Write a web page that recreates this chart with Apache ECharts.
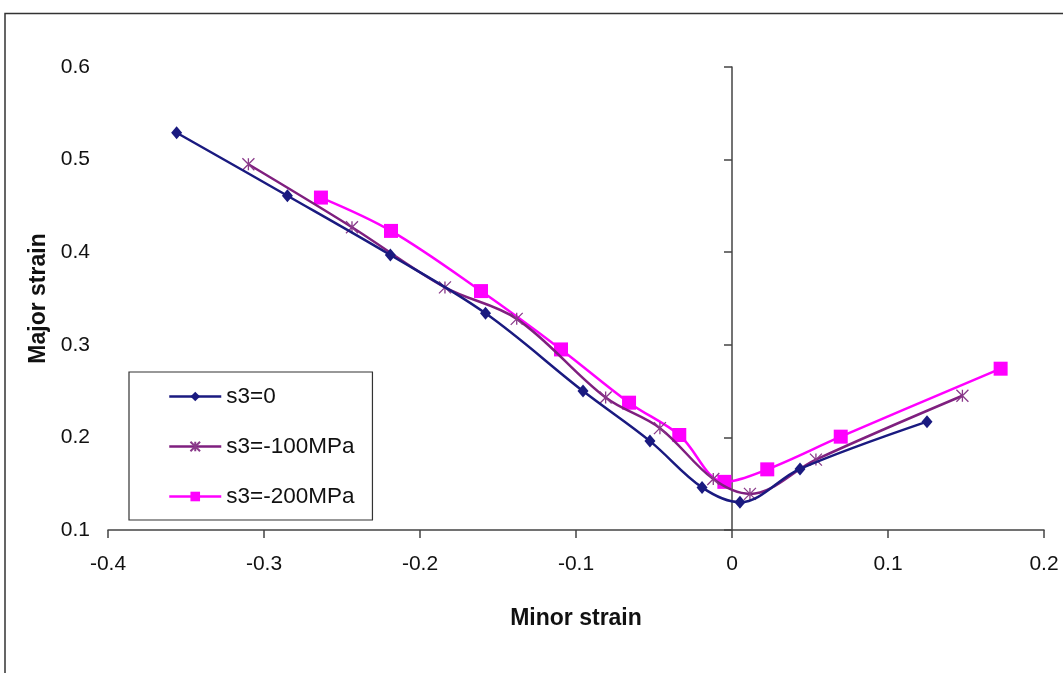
<!DOCTYPE html>
<html>
<head>
<meta charset="utf-8">
<script src="https://cdn.jsdelivr.net/npm/echarts@6/dist/echarts.min.js"></script>
<style>
html,body{margin:0;padding:0;background:#fff;}
#chart{width:1063px;height:673px;}
</style>
</head>
<body>
<div id="chart"></div>
<script>
// ---- data ----
var seriesNames = ['s3=0', 's3=-100MPa', 's3=-200MPa'];

var s0X = [-0.356, -0.285, -0.219, -0.158, -0.0955, -0.0526, -0.0192, 0.0051, 0.0436, 0.125];
var s0Y = [0.529, 0.461, 0.397, 0.334, 0.250, 0.196, 0.146, 0.130, 0.166, 0.217];

var s100X = [-0.310, -0.2436, -0.184, -0.138, -0.081, -0.0462, -0.012, 0.0115, 0.0538, 0.1477];
var s100Y = [0.495, 0.427, 0.362, 0.328, 0.243, 0.210, 0.155, 0.139, 0.176, 0.245];

var s200X = [-0.2635, -0.2186, -0.1609, -0.1096, -0.066, -0.0338, -0.0049, 0.0226, 0.0697, 0.1722];
var s200Y = [0.459, 0.423, 0.358, 0.295, 0.2375, 0.2026, 0.152, 0.1655, 0.2008, 0.2742];

var xTicks = [-0.4, -0.3, -0.2, -0.1, 0, 0.1, 0.2];
var yTicks = [0.1, 0.2, 0.3, 0.4, 0.5, 0.6];

function zip(xs, ys) { return xs.map(function (x, i) { return [x, ys[i]]; }); }

var FONT = 'Liberation Sans, Arial, sans-serif';
var starPath = 'path://M0,0L10,10M10,0L0,10M5,0L5,10';

var chart = echarts.init(document.getElementById('chart'));
chart.setOption({
  animation: false,
  backgroundColor: '#ffffff',
  graphic: [{
    type: 'rect',
    shape: { x: 5, y: 13.5, width: 1100, height: 700 },
    style: { fill: 'none', stroke: '#333', lineWidth: 1.5 },
    z: 0
  }],
  grid: { left: 108, right: 19, top: 67, bottom: 143, containLabel: false },
  legend: {
    orient: 'vertical',
    left: 129,
    top: 372,
    backgroundColor: '#fff',
    borderColor: '#333',
    borderWidth: 1.2,
    borderRadius: 0,
    padding: [13, 18, 12, 39],
    itemGap: 27,
    itemWidth: 52,
    itemHeight: 12,
    selectedMode: false,
    lineStyle: { width: 2.5 },
    textStyle: { fontFamily: FONT, fontSize: 22.5, color: '#111', lineHeight: 20 },
    data: seriesNames
  },
  xAxis: {
    type: 'value',
    min: -0.4, max: 0.2, interval: 0.1,
    name: 'Minor strain',
    nameLocation: 'middle',
    nameGap: 77,
    nameTextStyle: { fontFamily: FONT, fontSize: 23, fontWeight: 'bold', color: '#111' },
    axisLine: { onZero: false, lineStyle: { color: '#444', width: 1.5 } },
    axisTick: { show: true, length: 8, lineStyle: { color: '#444', width: 1.5 } },
    axisLabel: {
      margin: 24, fontFamily: FONT, fontSize: 21, color: '#111',
      customValues: xTicks,
      formatter: function (v) { return String(Math.round(v * 10) / 10); }
    },
    splitLine: { show: false }
  },
  yAxis: [{
    type: 'value',
    min: 0.1, max: 0.6, interval: 0.1,
    name: 'Major strain',
    nameLocation: 'middle',
    nameGap: 58,
    nameRotate: 90,
    nameTextStyle: { fontFamily: FONT, fontSize: 23, fontWeight: 'bold', color: '#111' },
    axisLine: { show: false, onZero: false },
    axisTick: { show: false },
    axisLabel: {
      margin: 18, fontFamily: FONT, fontSize: 21, color: '#111',
      customValues: yTicks,
      formatter: function (v) { return String(Math.round(v * 10) / 10); }
    },
    splitLine: { show: false }
  }, {
    type: 'value',
    position: 'left',
    min: 0.1, max: 0.6, interval: 0.1,
    axisLine: { show: true, onZero: true, lineStyle: { color: '#444', width: 1.5 } },
    axisTick: { show: true, length: 8, lineStyle: { color: '#444', width: 1.5 } },
    axisLabel: { show: false },
    splitLine: { show: false }
  }],
  series: [{
    name: seriesNames[0],
    type: 'line',
    smooth: 0.35,
    data: zip(s0X, s0Y),
    symbol: 'diamond',
    symbolSize: [11, 13],
    lineStyle: { color: '#1a1a80', width: 2.5 },
    itemStyle: { color: '#1a1a80' },
    z: 4
  }, {
    name: seriesNames[1],
    type: 'line',
    smooth: 0.35,
    data: zip(s100X, s100Y),
    symbol: starPath,
    symbolSize: 12,
    lineStyle: { color: '#7f1f7f', width: 2.5 },
    itemStyle: { color: 'rgba(0,0,0,0)', borderColor: '#8a3a8a', borderWidth: 1.3 },
    z: 3
  }, {
    name: seriesNames[2],
    type: 'line',
    smooth: 0.35,
    data: zip(s200X, s200Y),
    symbol: 'rect',
    symbolSize: 14,
    lineStyle: { color: '#ff00ff', width: 2.5 },
    itemStyle: { color: '#ff00ff' },
    z: 2
  }]
});
</script>
</body>
</html>
